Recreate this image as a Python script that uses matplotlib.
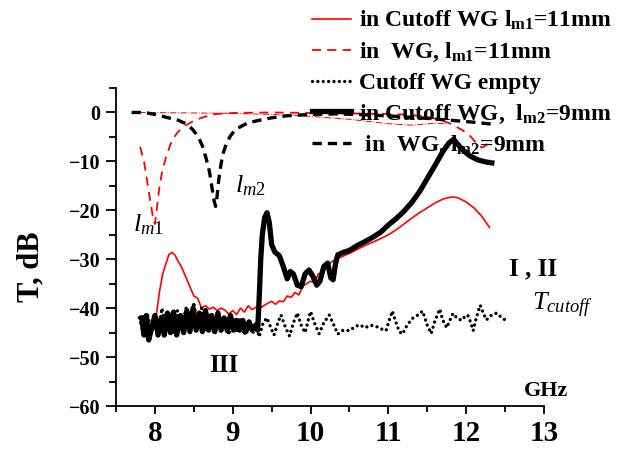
import matplotlib
matplotlib.use('Agg')
import matplotlib.pyplot as plt
from matplotlib.ticker import MultipleLocator

plt.rcParams['font.family'] = ['Liberation Serif', 'DejaVu Serif']
plt.rcParams['mathtext.fontset'] = 'custom'
plt.rcParams['mathtext.rm'] = 'Liberation Serif'
plt.rcParams['mathtext.it'] = 'Liberation Serif:italic'
plt.rcParams['mathtext.bf'] = 'Liberation Serif:bold'

# in Cutoff WG, l_m1 = 11mm (red solid)
f_cut1 = [8.00, 8.03, 8.06, 8.10, 8.14, 8.18, 8.22, 8.26, 8.30, 8.34, 8.38, 8.42, 8.46, 8.50,
          8.55, 8.60, 8.65, 8.70, 8.75, 8.80, 8.85, 8.90, 8.95, 9.00, 9.05, 9.10, 9.15, 9.20,
          9.25, 9.30, 9.35, 9.40, 9.45, 9.50, 9.55, 9.60, 9.65, 9.70, 9.75, 9.80, 9.85, 9.90,
          9.95, 10.00, 10.05, 10.10, 10.15, 10.20, 10.25, 10.30, 10.40, 10.50, 10.60, 10.70,
          10.80, 10.90, 11.00, 11.10, 11.20, 11.30, 11.40, 11.50, 11.60, 11.70, 11.80, 11.85,
          11.90, 12.00, 12.10, 12.20, 12.30]
t_cut1 = [-43.5, -40, -36.5, -33, -31, -29, -28.6, -29.2, -30.5, -31.5, -33, -34.5, -36, -37.5,
          -38, -40, -39.5, -40.2, -39.8, -40.5, -40, -40.4, -41.2, -40.5, -41.3, -40, -40.8, -39.5,
          -40.3, -39.8, -40, -39.5, -39, -38.6, -39.2, -38.5, -38.7, -37.5, -37.8, -36.8, -37.3, -35.5,
          -35, -34.5, -34.8, -33, -32.8, -31.5, -30.8, -30.2, -29.5, -28.8, -28.0, -27.2,
          -26.5, -25.8, -25.0, -24.0, -22.8, -21.6, -20.5, -19.5, -18.5, -17.7, -17.3, -17.3,
          -17.5, -18.3, -19.5, -21.2, -23.5]

# in WG, l_m1 = 11mm (red dashed)
f_wg1 = [7.81, 7.86, 7.90, 7.94, 7.98, 8.00, 8.03, 8.06, 8.10, 8.15, 8.20, 8.25, 8.30, 8.40,
         8.50, 8.60, 8.70, 8.80, 9.00, 9.50, 10.00, 10.50, 11.00, 11.30, 11.50, 11.65, 11.80,
         11.95, 12.05, 12.15, 12.20, 12.25, 12.28]
t_wg1 = [-7, -10, -14, -18, -22, -22.8, -19, -15, -11.5, -8.8, -6.5, -5, -3.9, -2.6,
         -1.7, -1.1, -0.6, -0.3, -0.1, 0, -0.1, -0.2, -0.3, -0.5, -0.9, -1.4, -2.3,
         -3.6, -4.8, -6.6, -7.2, -6.8, -6.3]

# thin red dash-dot reference near 0 dB
f_ref = [7.80, 8.50, 9.00, 9.50, 10.00, 10.50, 11.00, 11.30, 11.60, 11.75]
t_ref = [0, -0.1, -0.2, -0.4, -0.8, -1.4, -2.3, -2.6, -2.2, -2.3]

# Cutoff WG empty (black dotted)
f_empty = [7.80, 7.85, 7.90, 7.95, 8.00, 8.05, 8.09, 8.14, 8.19, 8.24, 8.29, 8.34, 8.40, 8.45,
           8.50, 8.55, 8.60, 8.65, 8.70, 8.75, 8.80, 8.85, 8.90, 8.95, 9.00, 9.05, 9.10, 9.15,
           9.20, 9.26, 9.30, 9.34, 9.39, 9.44, 9.49, 9.53, 9.58, 9.62, 9.68, 9.73, 9.78, 9.83,
           9.88, 9.93, 9.97, 10.00, 10.05, 10.11, 10.17, 10.24, 10.30, 10.35, 10.42, 10.50,
           10.57, 10.63, 10.70, 10.77, 10.84, 10.90, 10.97, 11.01, 11.05, 11.10, 11.14, 11.18,
           11.24, 11.31, 11.37, 11.44, 11.50, 11.55, 11.60, 11.66, 11.70, 11.75, 11.79, 11.83,
           11.88, 11.94, 11.98, 12.02, 12.06, 12.09, 12.13, 12.18, 12.22, 12.26, 12.32, 12.39,
           12.46, 12.54]
t_empty = [-42, -45, -41, -44.5, -42, -45, -40, -44, -41, -45, -40.5, -44.5, -40, -44,
           -38.8, -44, -40, -44.5, -41, -44.8, -41.5, -45, -42, -45.5, -42, -45, -42, -45.5,
           -42.5, -45, -43, -45.9, -43, -42, -44, -45.5, -43, -41.4, -44, -45.7, -43, -41,
           -43.5, -45, -42.5, -40.7, -43, -45.2, -43, -41.4, -43.5, -45.3, -44.5, -44.6,
           -43.8, -43.4, -44, -43.5, -43.7, -44.2, -44.6, -42.5, -40.6, -43, -44.8, -45.3,
           -43.5, -42.1, -41.5, -40.6, -43.5, -45.2, -42.5, -40.2, -42.5, -44, -42.5, -41.1,
           -42, -42.5, -41.8, -41.4, -43, -44.6, -42, -39.4, -41, -42.4, -41.5, -41,
           -42, -42.8]

# in Cutoff WG, l_m2 = 9mm (black thick)
f_cut2 = [7.83, 7.86, 7.89, 7.92, 7.96, 8.00, 8.04, 8.08, 8.12, 8.16, 8.20, 8.24, 8.28, 8.33,
          8.37, 8.41, 8.45, 8.49, 8.53, 8.57, 8.61, 8.65, 8.69, 8.73, 8.77, 8.81, 8.85, 8.89,
          8.93, 8.97, 9.01, 9.05, 9.09, 9.13, 9.17, 9.21, 9.25, 9.29, 9.32, 9.34, 9.36, 9.38,
          9.41, 9.44, 9.47, 9.50, 9.54, 9.60, 9.65, 9.70, 9.74, 9.78, 9.83, 9.88, 9.93, 9.98,
          10.03, 10.08, 10.12, 10.17, 10.22, 10.26, 10.29, 10.32, 10.35, 10.42, 10.50, 10.60,
          10.70, 10.80, 10.90, 11.00, 11.10, 11.20, 11.30, 11.40, 11.50, 11.60, 11.70, 11.78,
          11.84, 11.88, 11.95, 12.05, 12.15, 12.25, 12.33]
t_cut2 = [-42, -45.5, -41.5, -46.5, -44, -41.5, -45.5, -42, -45.5, -41, -45, -40.8, -45.5, -41.5,
          -45, -40.5, -44.8, -40, -44.5, -41, -44.8, -40.5, -44.5, -41.5, -44.8, -41, -44.5, -42,
          -44.6, -41.5, -44.5, -42.5, -44.5, -42.5, -44.8, -42.8, -44.5, -43.5, -44.5, -38, -30, -25,
          -21.5, -20.5, -22.5, -27, -28.5, -29.3, -31.5, -34, -32.5, -33, -35.3, -35.6, -33, -32.2,
          -33.5, -35.3, -34.5, -31.5, -30.8, -33.8, -34.2, -31, -29.1, -28.6, -28.2, -27.2,
          -26.4, -25.5, -24.5, -23, -21.7, -20.2, -18.4, -16.2, -13.5, -10.8, -8.0, -6.2,
          -5.5, -6.3, -7.6, -8.9, -9.7, -10.1, -10.3]

# in WG, l_m2 = 9mm (black dashed)
f_wg2 = [7.70, 7.80, 7.90, 8.00, 8.10, 8.20, 8.30, 8.40, 8.48, 8.55, 8.61, 8.66, 8.70, 8.73,
         8.76, 8.78, 8.80, 8.82, 8.85, 8.88, 8.92, 8.97, 9.02, 9.10, 9.20, 9.34, 9.50, 9.68,
         10.00, 10.30, 10.60, 11.00, 11.40, 11.80, 12.10, 12.34]
t_wg2 = [0, 0, -0.1, -0.4, -0.8, -1.2, -1.6, -2.3, -3.4, -4.8, -6.8, -9.5, -12, -15,
         -18, -19.2, -17, -13.8, -10.5, -8.2, -6.3, -4.8, -3.8, -2.9, -2.1, -1.6, -1.1, -0.7,
         -0.4, -0.3, -0.4, -0.7, -1.1, -1.6, -2.0, -2.4]

fig = plt.figure(figsize=(6.36, 4.5), dpi=100)
ax = fig.add_axes([116 / 636, 1 - 406 / 450, (544 - 116) / 636, (406 - 88) / 450])

ax.plot(f_ref, t_ref, color='red', lw=0.7, ls='-.')
h1, = ax.plot(f_cut1, t_cut1, color='red', lw=1.2, ls='-')
h2, = ax.plot(f_wg1, t_wg1, color='red', lw=1.3, ls=(0, (5, 3.5)))
h3, = ax.plot(f_empty, t_empty, color='black', lw=2.4, ls=(0, (0.01, 1.6)),
              dash_capstyle='round')
h4, = ax.plot(f_cut2, t_cut2, color='black', lw=3.8, ls='-', solid_joinstyle='round')
h5, = ax.plot(f_wg2, t_wg2, color='black', lw=2.4, ls=(0, (2.8, 1.8)))

labels = [r'in Cutoff WG l$_{\mathbf{m1}}$=11mm',
          r'in  WG, l$_{\mathbf{m1}}$=11mm',
          'Cutoff WG empty',
          r'in Cutoff WG,  l$_{\mathbf{m2}}$=9mm',
          r' in  WG, l$_{\mathbf{m2}}$=9mm']
fig.legend([h1, h2, h3, h4, h5], labels, loc='upper left',
           bbox_to_anchor=(312 / 636, 1 - 9 / 450), frameon=False,
           prop={'family': 'Liberation Serif', 'weight': 'bold', 'size': 17},
           handlelength=1.65, handletextpad=0.35, labelspacing=0.36,
           borderpad=0, borderaxespad=0)

ax.set_xlim(7.5, 13)
ax.set_ylim(-60, 5)
ax.xaxis.set_major_locator(MultipleLocator(1))
ax.xaxis.set_minor_locator(MultipleLocator(0.5))
ax.set_yticks(range(-60, 1, 10))
ax.yaxis.set_minor_locator(MultipleLocator(5))
ax.spines['top'].set_visible(False)
ax.spines['right'].set_visible(False)
ax.spines['left'].set_linewidth(1.3)
ax.spines['bottom'].set_linewidth(1.3)
ax.tick_params(axis='x', which='major', length=6, width=1.3, labelsize=21, pad=4)
ax.tick_params(axis='x', which='minor', length=4, width=1.3)
ax.tick_params(axis='y', which='major', length=7, width=1.3, labelsize=14.5, pad=4)
ax.tick_params(axis='y', which='minor', length=5, width=1.3)
for lab in ax.get_xticklabels() + ax.get_yticklabels():
    lab.set_fontweight('bold')

fig.text(31 / 636, 1 - 267 / 450, 'T, dB', rotation=90, ha='center', va='center',
         fontsize=22, fontweight='bold')

ax.text(7.72, -23, r'$l_{m1}$', fontsize=19, ha='left', va='center')
ax.text(9.03, -15, r'$l_{m2}$', fontsize=19, ha='left', va='center')
ax.text(12.86, -32, 'I , II', fontsize=18, fontweight='bold', ha='center', va='center')
ax.text(12.85, -39.4, r'$T_{cutoff}$', fontsize=19, ha='left', va='center')
ax.text(8.89, -51.7, 'III', fontsize=18, fontweight='bold', ha='center', va='center')
ax.text(13.03, -56.9, 'GHz', fontsize=16, fontweight='bold', ha='center', va='center')

fig.savefig('out.png', dpi=100)
